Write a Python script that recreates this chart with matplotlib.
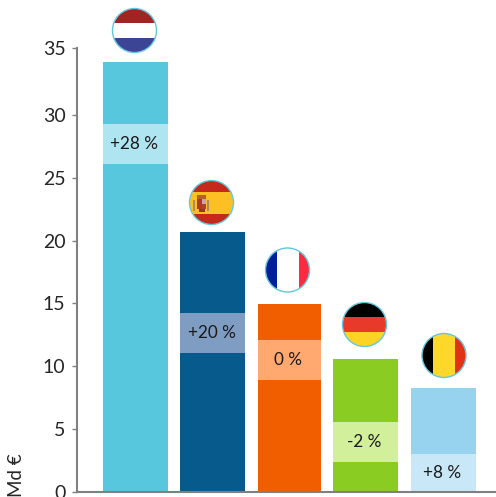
import matplotlib
matplotlib.use("Agg")
import matplotlib.pyplot as plt
from matplotlib.patches import Circle, Rectangle

W, H = 496, 497

values = [34.2, 20.7, 14.95, 10.55, 8.25]
band_low = [26.1, 11.05, 8.9, 2.4, 0.0]
band_high = [29.3, 14.2, 12.1, 5.55, 3.0]
labels = ['+28 %', '+20 %', '0 %', '-2 %', '+8 %']
bar_colors = ['#56c7dc', '#075a8c', '#f05e00', '#8acc22', '#97d3ee']
band_colors = ['#aee5f1', '#7f9cc3', '#ffa86f', '#d2ef9c', '#c9e8f7']
bar_left = [103, 180, 258, 333, 411]
bar_right = [168, 245, 321, 398, 476]
# the top tick sits a bit high in the source, so its position is not 35 exactly
ytick_pos = [0, 5, 10, 15, 20, 25, 30, 35.3]
ytick_labels = ['0', '5', '10', '15', '20', '25', '30', '35']

# flag centres in pixels, stripes as (colour, start, end) in -1..1 of the radius
flag_x = [134.5, 211.5, 287.5, 364.5, 444]
flag_y = [30.5, 202.5, 270, 324.5, 355.5]
flag_r = 22
flags = [
    ('h', [('#a32222', -1, -0.32), ('#ffffff', -0.32, 0.34), ('#3c4496', 0.34, 1)]),
    ('h', [('#c5291c', -1, -0.5), ('#fdc024', -0.5, 0.5), ('#c5291c', 0.5, 1)]),
    ('v', [('#00209a', -1, -0.5), ('#ffffff', -0.5, 0.5), ('#ff2a40', 0.5, 1)]),
    ('h', [('#000000', -1, -0.33), ('#e73a2a', -0.33, 0.33), ('#fdd426', 0.33, 1)]),
    ('v', [('#000000', -1, -0.5), ('#fdd82a', -0.5, 0.5), ('#e23216', 0.5, 1)]),
]
# bits of the spanish crest: dx, dy, w, h, colour
crest = [
    (-19, -3, 2.5, 11, '#b08a5a'),
    (-5, -3, 2.5, 11, '#b08a5a'),
    (-15, -7.5, 9, 4, '#b5602c'),
    (-15, -3.5, 5, 10, '#b8342a'),
    (-10, -3.5, 4, 5, '#c9a3b4'),
    (-10, 1.5, 4, 5, '#a8452c'),
    (-13, 6.5, 6, 2.5, '#8f3a24'),
]

plt.rcParams['font.family'] = ['Lato', 'DejaVu Sans']

fig = plt.figure(figsize=(W / 100, H / 100), dpi=100)
top_px = 48.3
ax = fig.add_axes([76.7 / W, (H - 491.7) / H, (W - 76.7) / W, (491.7 - top_px) / H])
ax.set_xlim(76.7, W)
ax.set_ylim(0, (491.7 - top_px) / 12.56)

for i in range(len(values)):
    x = bar_left[i]
    w = bar_right[i] - bar_left[i]
    ax.bar(x, values[i], width=w, align='edge', color=bar_colors[i], clip_on=False)
    ax.bar(x, band_high[i] - band_low[i], bottom=band_low[i], width=w, align='edge', color=band_colors[i])
    ax.text(x + w / 2 - 1, (band_low[i] + band_high[i]) / 2, labels[i], ha='center', va='center',
            fontsize=12.3, color='#1a1a1a')

for s in ['top', 'right']:
    ax.spines[s].set_visible(False)
for s in ['left', 'bottom']:
    ax.spines[s].set_color('#808080')
    ax.spines[s].set_linewidth(1.5)
ax.set_xticks([])
ax.set_yticks(ytick_pos)
ax.set_yticklabels(ytick_labels)
ax.tick_params(axis='y', length=3.5, width=1.0, color='#808080', labelsize=14, labelcolor='#262626', pad=4.5)
ax.patch.set_alpha(0)

fig.text(17 / W, 0, 'Md €', rotation=90, ha='center', va='bottom', fontsize=13.5, color='#262626')

# overlay in pixel coordinates for the round flags
ov = fig.add_axes([0, 0, 1, 1])
ov.set_xlim(0, W)
ov.set_ylim(H, 0)
ov.axis('off')
for n, (cx, cy, (kind, stripes)) in enumerate(zip(flag_x, flag_y, flags)):
    clip = Circle((cx, cy), flag_r, transform=ov.transData)
    for col, a, b in stripes:
        if kind == 'h':
            r = Rectangle((cx - flag_r, cy + a * flag_r), 2 * flag_r, (b - a) * flag_r, color=col, lw=0)
        else:
            r = Rectangle((cx + a * flag_r, cy - flag_r), (b - a) * flag_r, 2 * flag_r, color=col, lw=0)
        ov.add_patch(r)
        r.set_clip_path(clip)
    if n == 1:
        for dx, dy, w, h, col in crest:
            ov.add_patch(Rectangle((cx + dx, cy + dy), w, h, color=col, lw=0))
    ov.add_patch(Circle((cx, cy), flag_r, fill=False, ec='#62c8dc', lw=1.0))

fig.savefig('out.png', dpi=100)
